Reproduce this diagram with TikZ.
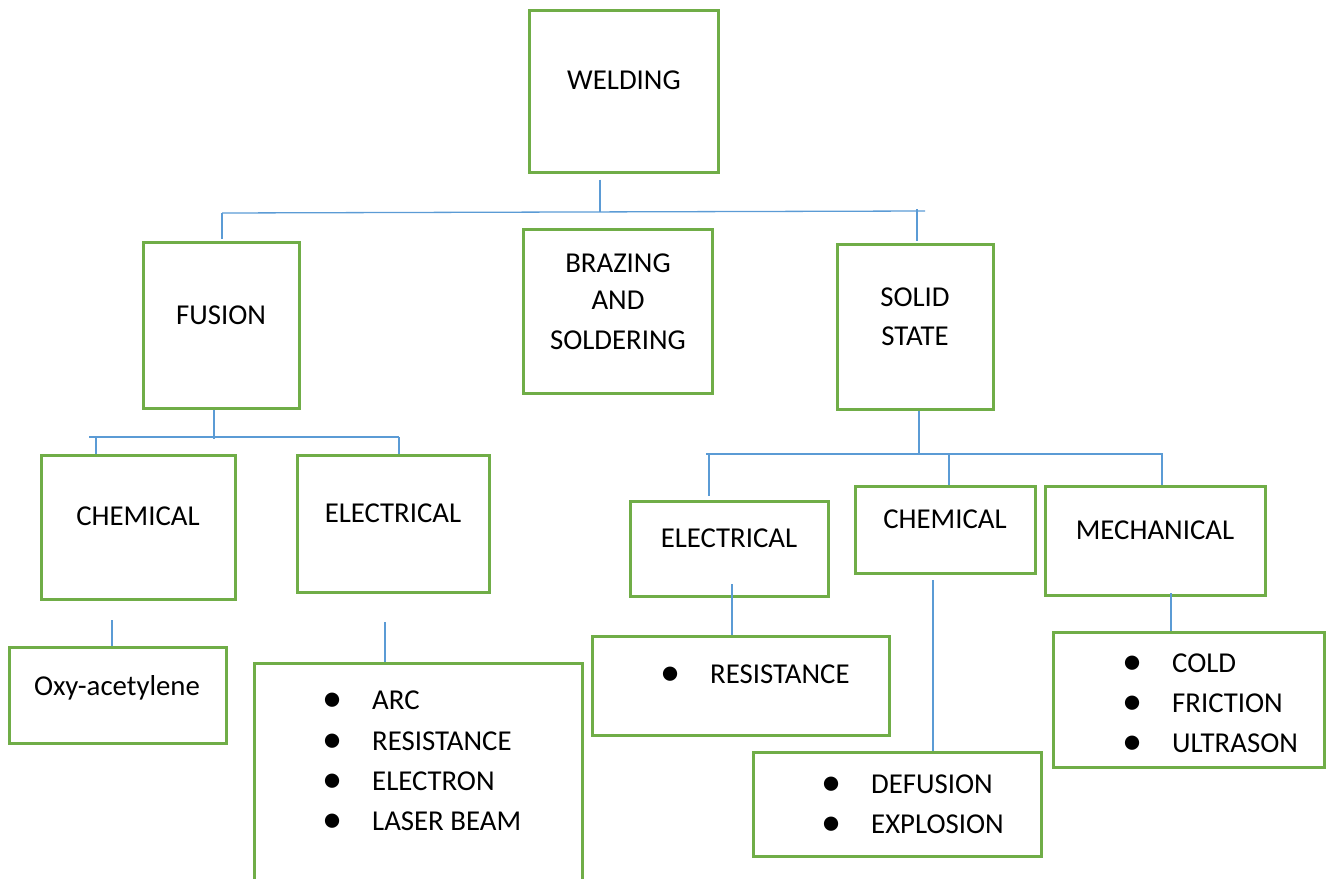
\documentclass[tikz,border=0pt]{standalone}
\usepackage{fontspec}
\setmainfont{Carlito}
\definecolor{boxgreen}{HTML}{70AD47}
\definecolor{linkblue}{HTML}{5B9BD5}
\newcommand{\bitem}[1]{\makebox[50pt][l]{\raisebox{-2.5pt}{\scalebox{1.4}{\textbullet}}}#1}
\tikzset{
  box/.style={draw=boxgreen, line width=3pt, inner sep=0pt},
  link/.style={draw=linkblue, line width=1.3pt},
  lbl/.style={anchor=base, inner sep=0pt},
  itm/.style={anchor=base west, inner sep=0pt}
}
\begin{document}
\begin{tikzpicture}[x=1pt, y=-1pt, font=\fontsize{28.8}{39}\selectfont]
\clip (0,0) rectangle (1333,878);
%boxes
\node[box, minimum width=189, minimum height=162] at (623.5,91) (weld) {};
\node[box, minimum width=156, minimum height=166] at (221,325) (fusion) {};
\node[box, minimum width=189, minimum height=164] at (617.5,311) (braze) {};
\node[box, minimum width=156, minimum height=165] at (915,326.5) (solid) {};
\node[box, minimum width=194, minimum height=144] at (138,527) (chemA) {};
\node[box, minimum width=192, minimum height=137] at (393,523.5) (elecA) {};
\node[box, minimum width=217, minimum height=96] at (117.5,695) (oxy) {};
\node[box, minimum width=328, minimum height=260] at (418,793) (arcs) {};
\node[box, minimum width=198, minimum height=95] at (729,548.5) (elecB) {};
\node[box, minimum width=180, minimum height=87] at (945,529.5) (chemB) {};
\node[box, minimum width=220, minimum height=109] at (1155,540.5) (mech) {};
\node[box, minimum width=297, minimum height=99] at (740.5,685.5) (res) {};
\node[box, minimum width=288, minimum height=104] at (897,804) (dif) {};
\node[box, minimum width=271, minimum height=135] at (1188.5,699.5) (cold) {};
%labels
\node[lbl] at (624,89) (tWeld) {WELDING};
\node[lbl] at (221,324) (tFusion) {FUSION};
\node[lbl] at (618,272) (tBraze1) {BRAZING};
\node[lbl] at (618,309) (tBraze2) {AND};
\node[lbl] at (618,349) (tBraze3) {SOLDERING};
\node[lbl] at (915,306) (tSolid1) {SOLID};
\node[lbl] at (915,345) (tSolid2) {STATE};
\node[lbl] at (138,525) (tChemA) {CHEMICAL};
\node[lbl] at (393,522) (tElecA) {ELECTRICAL};
\node[lbl] at (117,695) (tOxy) {Oxy-acetylene};
\node[lbl] at (729,547) (tElecB) {ELECTRICAL};
\node[lbl] at (945,528) (tChemB) {CHEMICAL};
\node[lbl] at (1155,539) (tMech) {MECHANICAL};
%lists
\node[itm] at (322,709) (iArc) {\bitem{ARC}};
\node[itm] at (322,750) (iRes) {\bitem{RESISTANCE}};
\node[itm] at (322,790) (iElec) {\bitem{ELECTRON}};
\node[itm] at (322,830) (iLaser) {\bitem{LASER BEAM}};
\node[itm] at (660,683) (iRes2) {\bitem{RESISTANCE}};
\node[itm] at (821,793) (iDef) {\bitem{DEFUSION}};
\node[itm] at (821,833) (iExp) {\bitem{EXPLOSION}};
\node[itm] at (1122,672) (iCold) {\bitem{COLD}};
\node[itm] at (1122,712) (iFric) {\bitem{FRICTION}};
\node[itm] at (1122,752) (iUltra) {\bitem{ULTRASON}};
%branching welding
\coordinate (tm) at (600,212);
\coordinate (tl) at (222,213);
\coordinate (tr) at (925,211);
\coordinate (trd) at (917,209);
\draw[link] (weld.south -| tm) ++(0,6) -- (tm);
\draw[link] (tl) -- (tr);
\draw[link] (tl) -- ([yshift=2]tl |- fusion.north);
\draw[link] (trd) -- ([yshift=2]trd |- solid.north);
%branching fusion
\coordinate (fm) at (214,439);
\coordinate (fl) at (89,437);
\coordinate (fr) at (399,437);
\coordinate (fld) at (96,437);
\draw[link] (fusion.south -| fm) -- (fm);
\draw[link] (fl) -- (fr);
\draw[link] (fld) -- (fld |- chemA.north);
\draw[link] (fr) -- (fr |- elecA.north);
%branching solid state
\coordinate (sm) at (919,453);
\coordinate (sl) at (706,454);
\coordinate (sr) at (1163,454);
\coordinate (sld) at (709,454);
\coordinate (sle) at (709,496);
\coordinate (smd) at (949,454);
\coordinate (srd) at (1162,454);
\draw[link] (solid.south -| sm) -- (sm);
\draw[link] (sl) -- (sr);
\draw[link] (sld) -- (sle);
\draw[link] (smd) -- (smd |- chemB.north);
\draw[link] (srd) -- (srd |- mech.north);
%leaves
\coordinate (oxyTop) at (112,620);
\coordinate (arcTop) at (385,622);
\coordinate (resTop) at (732,584);
\coordinate (difTop) at (933,580);
\coordinate (coldTop) at (1171,593);
\draw[link] (oxyTop) -- (oxyTop |- oxy.north);
\draw[link] (arcTop) -- (arcTop |- arcs.north);
\draw[link] (resTop) -- (resTop |- res.north);
\draw[link] (difTop) -- (difTop |- dif.north);
\draw[link] (coldTop) -- (coldTop |- cold.north);
\end{tikzpicture}
\end{document}
